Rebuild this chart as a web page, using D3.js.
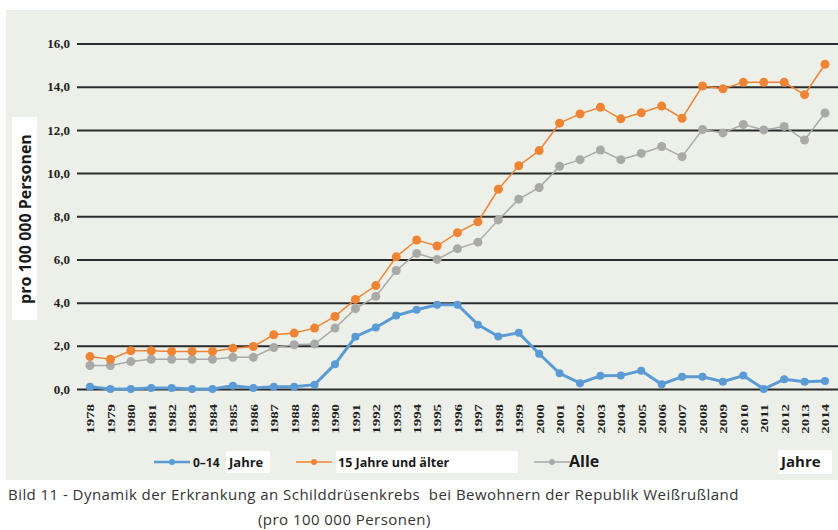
<!DOCTYPE html>
<html>
<head>
<meta charset="utf-8">
<script src="https://cdn.jsdelivr.net/npm/d3@7"></script>
<style>
  body { margin: 0; background: #fff; }
  svg { display: block; }
</style>
</head>
<body>
<div id="chart"></div>
<script>
// data
const years = d3.range(1978, 2015);
const kids = [0.1, 0.0, 0.0, 0.05, 0.05, 0.0, 0.0, 0.15, 0.05, 0.1, 0.1, 0.2, 1.15, 2.42,
  2.85, 3.4, 3.67, 3.9, 3.9, 2.98, 2.43, 2.6, 1.63, 0.73, 0.27, 0.61, 0.62, 0.85, 0.22,
  0.57, 0.57, 0.34, 0.62, 0.0, 0.45, 0.34, 0.37];
const adults = [1.5, 1.38, 1.77, 1.77, 1.74, 1.74, 1.74, 1.89, 1.97, 2.51, 2.59, 2.82, 3.36,
  4.15, 4.79, 6.12, 6.9, 6.62, 7.24, 7.74, 9.25, 10.34, 11.04, 12.31, 12.74, 13.05, 12.51,
  12.79, 13.1, 12.54, 14.03, 13.9, 14.2, 14.2, 14.2, 13.63, 15.04];
const all = [1.09, 1.09, 1.27, 1.38, 1.38, 1.38, 1.38, 1.47, 1.47, 1.92, 2.05, 2.08, 2.82,
  3.72, 4.29, 5.49, 6.28, 6.0, 6.5, 6.8, 7.83, 8.79, 9.33, 10.31, 10.62, 11.07, 10.62,
  10.91, 11.23, 10.76, 12.02, 11.86, 12.25, 12.0, 12.16, 11.53, 12.78];
const yTicks = [0, 2, 4, 6, 8, 10, 12, 14, 16];
const seriesNames = ['0–14 Jahre', '15 Jahre und älter', 'Alle'];

const W = 838, H = 530;
const svg = d3.select('#chart').append('svg')
    .attr('width', W).attr('height', H);

// scanned page background
svg.append('rect').attr('x', 6).attr('y', 10).attr('width', W - 6).attr('height', 470)
    .attr('fill', '#edf0e9');

const x = d3.scalePoint().domain(years).range([90, 825]);
const y = d3.scaleLinear().domain([0, 16]).range([389, 43.5]);

// y axis with gridlines
const yAxis = svg.append('g').attr('class', 'axis-y')
    .attr('transform', 'translate(77,0)')
    .call(d3.axisLeft(y).tickValues(yTicks).tickSize(-(W - 77)).tickPadding(7)
        .tickFormat(d => d3.format('.1f')(d).replace('.', ',')));
yAxis.select('.domain').remove();
yAxis.selectAll('line').attr('stroke', '#2a2a2a').attr('stroke-width', 2);
yAxis.selectAll('text')
    .style('font-family', '"Liberation Serif", serif')
    .style('font-weight', 'bold')
    .style('font-size', '13px')
    .attr('fill', '#222');

// x axis labels, rotated and stretched like the scan
const xAxis = svg.append('g').attr('class', 'axis-x')
    .attr('transform', 'translate(0,404)')
    .call(d3.axisBottom(x).tickSize(0).tickPadding(0));
xAxis.select('.domain').remove();
xAxis.selectAll('text')
    .style('text-anchor', 'end')
    .style('font-family', '"Liberation Serif", serif')
    .style('font-weight', 'bold')
    .style('font-size', '11px')
    .attr('fill', '#222')
    .attr('y', 0)
    .attr('dy', '0.35em')
    .attr('transform', 'rotate(-90) scale(1.35,1)');

// y title
svg.append('rect').attr('x', 12).attr('y', 117).attr('width', 25).attr('height', 203).attr('fill', '#fff');
svg.append('text')
    .attr('transform', 'translate(31,219) rotate(-90)')
    .attr('text-anchor', 'middle')
    .style('font-family', '"Open Sans", sans-serif')
    .style('font-weight', 'bold')
    .style('font-size', '16px')
    .attr('fill', '#1a1a1a')
    .text('pro 100 000 Personen');

// series
const series = [
  { name: seriesNames[2], values: all, color: '#a9aaa8', width: 1.5, r: 4.5 },
  { name: seriesNames[1], values: adults, color: '#ef8434', width: 1.5, r: 4.5 },
  { name: seriesNames[0], values: kids, color: '#5b9bd5', width: 3, r: 4 }
];
const line = d3.line().x((d, i) => x(years[i])).y(d => y(d));

series.forEach(s => {
  const g = svg.append('g');
  g.append('path').datum(s.values)
      .attr('fill', 'none').attr('stroke', s.color).attr('stroke-width', s.width)
      .attr('d', line);
  g.selectAll('circle').data(s.values).enter().append('circle')
      .attr('cx', (d, i) => x(years[i]))
      .attr('cy', d => y(d))
      .attr('r', s.r)
      .attr('fill', s.color);
});

// legend
const legY = 462;
const leg = svg.append('g');
function legendMark(x0, color, w) {
  leg.append('line').attr('x1', x0).attr('x2', x0 + 36).attr('y1', legY).attr('y2', legY)
      .attr('stroke', color).attr('stroke-width', w);
  leg.append('circle').attr('cx', x0 + 18).attr('cy', legY).attr('r', 3).attr('fill', color);
}
legendMark(154, '#5b9bd5', 2.5);
legendMark(296, '#ef8434', 1.5);
legendMark(534, '#a9aaa8', 1.5);

leg.append('rect').attr('x', 226).attr('y', 451).attr('width', 44).attr('height', 22).attr('fill', '#fff');
leg.append('rect').attr('x', 336).attr('y', 451).attr('width', 182).attr('height', 22).attr('fill', '#fff');
leg.append('rect').attr('x', 778).attr('y', 450).attr('width', 54).attr('height', 24).attr('fill', '#fff');

const legText = (tx, t, size) => leg.append('text')
    .attr('x', tx).attr('y', legY + 5)
    .style('font-family', '"Open Sans", sans-serif')
    .style('font-weight', 'bold')
    .style('font-size', size + 'px')
    .attr('fill', '#1a1a1a')
    .text(t);
legText(193, '0–14', 12);
legText(229, 'Jahre', 13);
legText(338, '15 Jahre und älter', 12.5);
legText(569, seriesNames[2], 16);
legText(781, 'Jahre', 15);

// caption
const cap = svg.append('g')
    .style('font-family', '"Open Sans", sans-serif')
    .style('font-size', '15px')
    .style('letter-spacing', '0.45px')
    .attr('fill', '#333');
cap.append('text').attr('x', 8).attr('y', 500)
    .text('Bild 11 - Dynamik der Erkrankung an Schilddrüsenkrebs  bei Bewohnern der Republik Weißrußland')
    .attr('xml:space', 'preserve').style('white-space', 'pre');
cap.append('text').attr('x', 258).attr('y', 525)
    .text('(pro 100 000 Personen)');
</script>
</body>
</html>
